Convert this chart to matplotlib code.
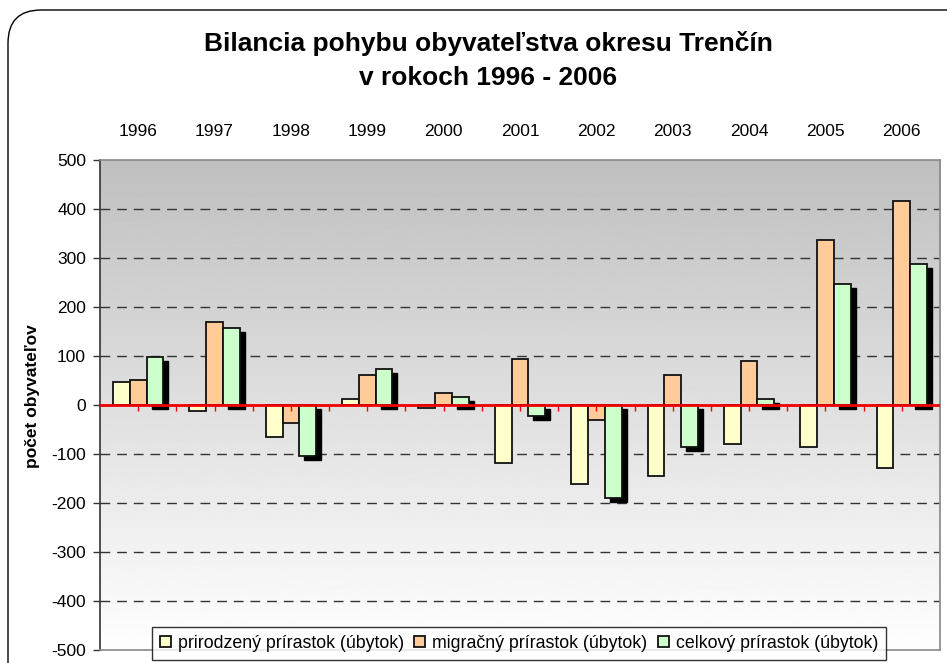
import numpy as np
import matplotlib
matplotlib.use("Agg")
import matplotlib.pyplot as plt
import matplotlib.transforms as mtransforms
from matplotlib.patches import FancyBboxPatch

plt.rcParams['font.family'] = ['Liberation Sans', 'DejaVu Sans']

years = ['1996', '1997', '1998', '1999', '2000', '2001', '2002', '2003', '2004', '2005', '2006']
prirodzeny = [46, -13, -66, 13, -7, -119, -161, -145, -79, -86, -129]
migracny = [52, 170, -36, 61, 25, 93, -30, 61, 90, 336, 417]
celkovy = [97, 158, -105, 74, 16, -23, -190, -86, 13, 246, 288]
series_names = ['prirodzený prírastok (úbytok)', 'migračný prírastok (úbytok)', 'celkový prírastok (úbytok)']
colors = ['#FFFFCC', '#FFCC99', '#CCFFCC']
yticks = [500, 400, 300, 200, 100, 0, -100, -200, -300, -400, -500]

W, H = 947, 663
fig = plt.figure(figsize=(W / 100, H / 100), dpi=100)

# rounded outer frame
frame = FancyBboxPatch((8 / W, 1 - 700 / H), 1000 / W, 690 / H,
                       boxstyle="round,pad=0,rounding_size=0.035",
                       transform=fig.transFigure, fill=False, ec='black', lw=1.0,
                       mutation_aspect=W / H)
fig.patches.append(frame)

ax = fig.add_axes([100 / W, 1 - 650 / H, 840 / W, 490 / H])
x = np.arange(len(years))
bw = 0.22

# gradient background
grad = np.linspace(0.75, 1.0, 256).reshape(-1, 1)
ax.imshow(grad, cmap='gray', vmin=0, vmax=1, aspect='auto',
          extent=(-0.5, len(years) - 0.5, -500, 500), origin='upper', zorder=0)

ax.set_xlim(-0.5, len(years) - 0.5)
ax.set_ylim(-500, 500)

# grid lines
for yv in yticks:
    if yv not in (0, 500, -500):
        ax.axhline(yv, color='#333333', lw=1.0, ls=(0, (7, 5)), zorder=1)

# bars
ax.bar(x - bw, prirodzeny, bw, color=colors[0], edgecolor='#111111', lw=1.3, zorder=3, label=series_names[0])
ax.bar(x, migracny, bw, color=colors[1], edgecolor='#111111', lw=1.3, zorder=3, label=series_names[1])
shadow_tr = mtransforms.offset_copy(ax.transData, fig=fig, x=5, y=-4, units='dots')
ax.bar(x + bw, celkovy, bw, color='black', edgecolor='black', lw=1.0, zorder=2.5, transform=shadow_tr)
ax.bar(x + bw, celkovy, bw, color=colors[2], edgecolor='#111111', lw=1.3, zorder=3, label=series_names[2])

# zero axis line with red ticks
ax.axhline(0, color='#EE0000', lw=2.0, zorder=4)
tickpos = np.concatenate([x, x[:-1] + 0.5])
ax.vlines(tickpos, -12, 0, color='#EE0000', lw=1.0, zorder=4)

# axes styling
ax.xaxis.set_ticks_position('top')
ax.set_xticks(x)
ax.set_xticklabels(years, fontsize=12.5)
ax.tick_params(axis='x', length=0, pad=15)
ax.set_yticks(yticks)
ax.set_yticklabels([str(v) for v in yticks], fontsize=12.5)
ax.tick_params(axis='y', length=5, width=1, color='#333333', pad=5, direction='out')
for s in ['top', 'right', 'bottom']:
    ax.spines[s].set_color('#888888')
    ax.spines[s].set_linewidth(1.2)
ax.spines['left'].set_color('#333333')
ax.spines['left'].set_linewidth(1.2)

ax.set_ylabel('počet obyvateľov', fontsize=12.5, fontweight='bold', va='center')
ax.yaxis.set_label_coords(-0.08, 0.518)

fig.text(488 / W, 1 - 44 / H, 'Bilancia pohybu obyvateľstva okresu Trenčín',
         ha='center', va='center', fontsize=19, fontweight='bold')
fig.text(488 / W, 1 - 78 / H, 'v rokoch 1996 - 2006',
         ha='center', va='center', fontsize=19, fontweight='bold')

leg = fig.legend(loc='center', bbox_to_anchor=(519 / W, 1 - 643 / H), ncol=3,
                 fontsize=12.8, frameon=True, fancybox=False, edgecolor='black',
                 handlelength=0.6, handleheight=0.6, handletextpad=0.4,
                 columnspacing=0.6, borderpad=0.45, borderaxespad=0)
leg.get_frame().set_linewidth(1.0)
leg.set_zorder(10)

fig.savefig('out.png', dpi=100)
